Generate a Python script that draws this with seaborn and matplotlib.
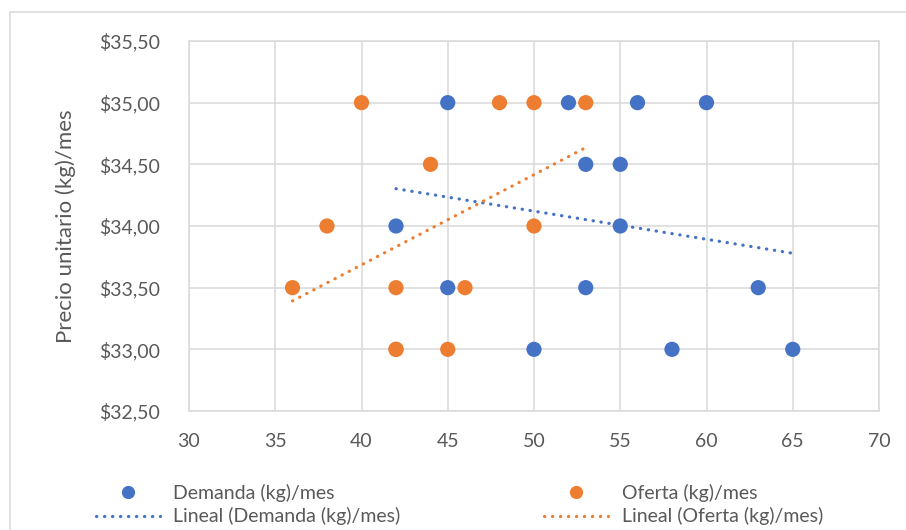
import matplotlib
matplotlib.use("Agg")
import matplotlib.pyplot as plt
from matplotlib.patches import Rectangle
from matplotlib.lines import Line2D
from matplotlib.ticker import FuncFormatter
import seaborn as sns
import pandas as pd

# Demanda (kg)/mes vs precio unitario
demanda_x = [45, 52, 56, 60, 53, 55, 42, 55, 45, 53, 63, 50, 58, 65]
demanda_y = [35.0, 35.0, 35.0, 35.0, 34.5, 34.5, 34.0, 34.0, 33.5, 33.5, 33.5, 33.0, 33.0, 33.0]

# Oferta (kg)/mes vs precio unitario (42 kg at $33,00 appears twice)
oferta_x = [40, 48, 50, 53, 44, 38, 50, 36, 42, 46, 42, 42, 45]
oferta_y = [35.0, 35.0, 35.0, 35.0, 34.5, 34.0, 34.0, 33.5, 33.5, 33.5, 33.0, 33.0, 33.0]

x_ticks = [30, 35, 40, 45, 50, 55, 60, 65, 70]
y_ticks = [32.5, 33.0, 33.5, 34.0, 34.5, 35.0, 35.5]

BLUE = "#4472C4"
ORANGE = "#ED7D31"
GRID = "#D9D9D9"
TEXT = "#595959"

sns.set_theme(style="white")
plt.rcParams["font.family"] = ["Lato", "DejaVu Sans"]

dem = pd.DataFrame({"x": demanda_x, "y": demanda_y})
ofe = pd.DataFrame({"x": oferta_x, "y": oferta_y})

fig = plt.figure(figsize=(9.06, 5.30), dpi=100)
ax = fig.add_axes([189 / 906, 1 - 411 / 530, 690 / 906, 370 / 530])

dot_style = dict(lw=2.3, linestyle=(0, (0.1, 2.4)), dash_capstyle="round",
                 solid_capstyle="round")

sns.regplot(data=dem, x="x", y="y", ax=ax, scatter=False, ci=None,
            truncate=True, color=BLUE, line_kws=dot_style)
sns.regplot(data=ofe, x="x", y="y", ax=ax, scatter=False, ci=None,
            truncate=True, color=ORANGE, line_kws=dot_style)

sns.scatterplot(data=dem, x="x", y="y", ax=ax, color=BLUE, s=120,
                edgecolor="none", zorder=3, legend=False)
sns.scatterplot(data=ofe, x="x", y="y", ax=ax, color=ORANGE, s=120,
                edgecolor="none", zorder=4, legend=False)

ax.set_xlim(x_ticks[0], x_ticks[-1])
ax.set_ylim(y_ticks[0], y_ticks[-1])
ax.set_xticks(x_ticks)
ax.set_yticks(y_ticks)
ax.yaxis.set_major_formatter(
    FuncFormatter(lambda v, _: "$" + f"{v:.2f}".replace(".", ",")))
ax.grid(True, color=GRID, lw=1.1)
ax.set_axisbelow(True)
for sp in ax.spines.values():
    sp.set_visible(True)
    sp.set_color(GRID)
    sp.set_linewidth(1.1)

ax.tick_params(axis="both", length=0, labelsize=14, labelcolor=TEXT)
ax.tick_params(axis="y", pad=21)
ax.tick_params(axis="x", pad=16)
ax.set_xlabel("")
ax.set_ylabel("Precio unitario (kg)/mes", fontsize=16, color=TEXT)
ax.yaxis.set_label_coords(-0.164, 0.5)

handles = [
    Line2D([], [], ls="none", marker="o", ms=9.5, color=BLUE, mec="none"),
    Line2D([], [], color=BLUE, **dot_style),
    Line2D([], [], ls="none", marker="o", ms=9.5, color=ORANGE, mec="none"),
    Line2D([], [], color=ORANGE, **dot_style),
]
labels = ["Demanda (kg)/mes", "Lineal (Demanda (kg)/mes)",
          "Oferta (kg)/mes", "Lineal (Oferta (kg)/mes)"]
fig.legend(handles, labels, ncol=2, loc="center left",
           bbox_to_anchor=(96 / 906, 1 - 504.5 / 530), frameon=False,
           fontsize=14, labelcolor=TEXT, handlelength=3.3,
           handletextpad=0.67, columnspacing=7.4, labelspacing=0.3,
           borderpad=0, borderaxespad=0)

# outer chart frame
fig.patches.append(Rectangle((10 / 906, -0.2), 1.5, 1.2 - 12 / 530,
                             transform=fig.transFigure, fill=False,
                             edgecolor=GRID, lw=1.1))

fig.savefig("out.png", dpi=100)
